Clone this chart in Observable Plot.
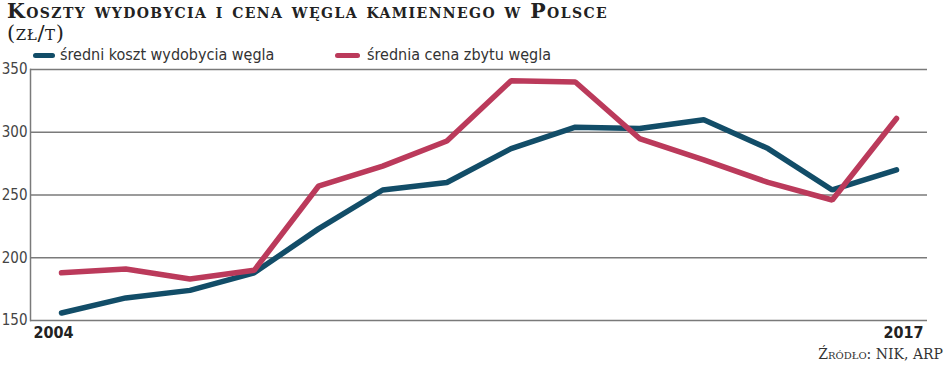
<!DOCTYPE html>
<html>
<head>
<meta charset="utf-8">
<script src="https://cdn.jsdelivr.net/npm/d3@7"></script>
<script src="https://cdn.jsdelivr.net/npm/@observablehq/plot@0.6"></script>
<style>
  html, body { margin: 0; padding: 0; background: #fff; }
  #wrap { position: relative; width: 948px; height: 371px; overflow: hidden; }
  #title { position: absolute; left: 7px; top: 0px; line-height: 23px; font-family: "DejaVu Serif", "Liberation Serif", serif; font-weight: bold; font-variant: small-caps; font-size: 20.5px; letter-spacing: 1.4px; color: #222; white-space: nowrap; }
  #subtitle { position: absolute; left: 7px; top: 23px; line-height: 21px; font-family: "DejaVu Serif", "Liberation Serif", serif; font-variant: small-caps; font-size: 21px; letter-spacing: 0.6px; color: #222; }
  .leg { position: absolute; top: 46px; line-height: 18px; font-family: "Liberation Sans Narrow", "DejaVu Sans Condensed", sans-serif; font-stretch: condensed; font-size: 16px; color: #333; white-space: nowrap; display: flex; align-items: center; }
  .sw { display: inline-block; height: 5px; border-radius: 3px; }
  #chart { position: absolute; left: 0; top: 60px; }
  #source { position: absolute; right: 5px; top: 346px; font-family: "DejaVu Serif", "Liberation Serif", serif; font-variant: small-caps; font-size: 14px; color: #333; white-space: nowrap; }
</style>
</head>
<body>
<div id="wrap">
  <div id="title"></div>
  <div id="subtitle"></div>
  <div id="legend"></div>
  <div id="chart"></div>
  <div id="source"></div>
</div>
<script>
const titleText = "Koszty wydobycia i cena węgla kamiennego w Polsce";
const subtitleText = "(zł/t)";
const sourceText = "Źródło: NIK, ARP";

const years = [2004, 2005, 2006, 2007, 2008, 2009, 2010, 2011, 2012, 2013, 2014, 2015, 2016, 2017];
const seriesNames = ["średni koszt wydobycia węgla", "średnia cena zbytu węgla"];
const kosztWydobycia = [156, 168, 174, 188, 223, 254, 260, 287, 304, 303, 310, 287, 254, 270];
const cenaZbytu = [188, 191, 183, 190, 257, 273, 293, 341, 340, 295, 278, 260, 246, 311];
const seriesColors = ["#124d68", "#bb3a5b"];
const yTicks = [150, 200, 250, 300, 350];
const xTickLabels = [2004, 2017];

document.getElementById("title").textContent = titleText;
document.getElementById("subtitle").textContent = subtitleText;
document.getElementById("source").textContent = sourceText;

const legendLayout = [{left: 33, sw: 22, gap: 5}, {left: 335, sw: 25, gap: 7}];
const legend = document.getElementById("legend");
seriesNames.forEach((name, i) => {
  const item = document.createElement("div");
  item.className = "leg";
  item.style.left = legendLayout[i].left + "px";
  const sw = document.createElement("span");
  sw.className = "sw";
  sw.style.width = legendLayout[i].sw + "px";
  sw.style.marginRight = legendLayout[i].gap + "px";
  sw.style.background = seriesColors[i];
  item.appendChild(sw);
  item.appendChild(document.createTextNode(name));
  legend.appendChild(item);
});

const data = [];
years.forEach((y, i) => {
  data.push({year: y, value: kosztWydobycia[i], series: seriesNames[0]});
  data.push({year: y, value: cenaZbytu[i], series: seriesNames[1]});
});

const font = "'Liberation Sans Narrow', 'DejaVu Sans Condensed', sans-serif";

const chart = Plot.plot({
  width: 948,
  height: 282,
  marginTop: 9,
  marginBottom: 22,
  marginLeft: 30,
  marginRight: 21,
  style: {fontFamily: font, background: "transparent", overflow: "visible"},
  x: {domain: [2004, 2017], inset: 31},
  y: {domain: [150, 350]},
  color: {domain: seriesNames, range: seriesColors},
  marks: [
    Plot.gridY(yTicks, {stroke: "#7a7a7a", strokeOpacity: 1, strokeWidth: 1.5}),
    Plot.frame({anchor: "left", stroke: "#7a7a7a", strokeWidth: 1.5}),
    Plot.axisY(yTicks, {tickSize: 0, tickPadding: 3, fontSize: 15, fill: "#444", label: null}),
    Plot.axisX([xTickLabels[0]], {tickSize: 0, tickPadding: 6, tickFormat: d => String(d), textAnchor: "start", dx: -28, fontSize: 16, fontWeight: "bold", fill: "#222", label: null}),
    Plot.axisX([xTickLabels[1]], {tickSize: 0, tickPadding: 6, tickFormat: d => String(d), textAnchor: "end", dx: 27, fontSize: 16, fontWeight: "bold", fill: "#222", label: null}),
    Plot.line(data, {x: "year", y: "value", stroke: "series", z: "series", strokeWidth: 5.5, strokeLinejoin: "miter", strokeLinecap: "round"})
  ]
});
document.getElementById("chart").appendChild(chart);
</script>
</body>
</html>
